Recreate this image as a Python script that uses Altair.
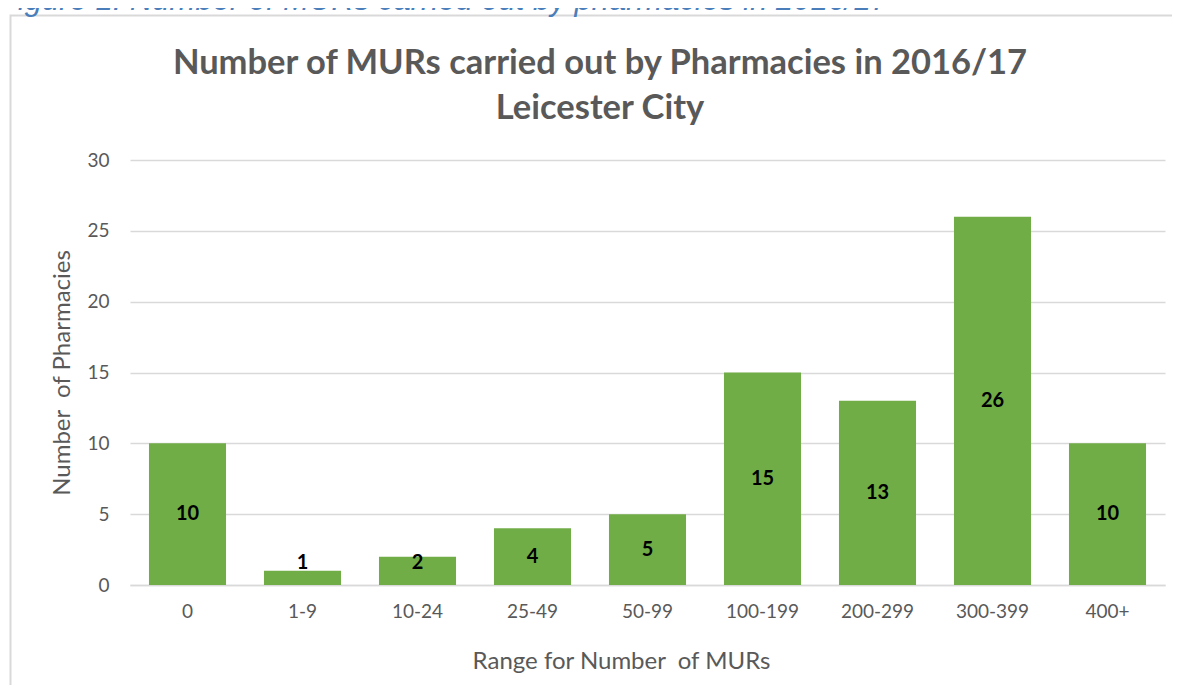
import altair as alt
import pandas as pd

categories = ["0", "1-9", "10-24", "25-49", "50-99", "100-199", "200-299", "300-399", "400+"]
pharmacies = [10, 1, 2, 4, 5, 15, 13, 26, 10]
y_ticks = [0, 5, 10, 15, 20, 25, 30]

title_lines = ["Number of MURs carried out by Pharmacies in 2016/17", "Leicester City"]
caption = "Figure 1: Number of MURs carried out by pharmacies in 2016/17"
x_title = "Range for Number \u00a0of MURs"
y_title = "Number \u00a0of Pharmacies"

df = pd.DataFrame({"range": categories, "count": pharmacies})

FONT = "Lato"
GREY = "#595959"

x_enc = alt.X(
    "range:N",
    sort=categories,
    scale=alt.Scale(paddingInner=0.33, paddingOuter=0.165),
    axis=alt.Axis(
        title=x_title,
        labelAngle=0,
        labelFont=FONT,
        labelFontSize=19,
        labelColor=GREY,
        labelPadding=17,
        ticks=False,
        domainColor="#d9d9d9",
        domainWidth=1.5,
        titleFont=FONT,
        titleFontSize=24,
        titleFontWeight="normal",
        titleColor=GREY,
        titleX=491,
        titleY=76,
        titleAlign="center",
        titleBaseline="middle",
    ),
)

y_scale = alt.Scale(domain=[0, 30], nice=False)

bars = alt.Chart(df).mark_bar(color="#70ad47").encode(
    x=x_enc,
    y=alt.Y(
        "count:Q",
        scale=y_scale,
        axis=alt.Axis(
            values=y_ticks,
            title=y_title,
            labelFont=FONT,
            labelFontSize=19,
            labelColor=GREY,
            labelPadding=21,
            ticks=False,
            domain=False,
            gridColor="#d9d9d9",
            gridWidth=1.5,
            titleFont=FONT,
            titleFontSize=24,
            titleFontWeight="normal",
            titleColor=GREY,
            titleX=-68,
            titleY=212.5,
            titleAngle=270,
            titleAlign="center",
            titleBaseline="middle",
        ),
    ),
)

labels = alt.Chart(df).transform_calculate(
    pos="max(datum.count / 2, 1.55)"
).mark_text(
    font=FONT, fontSize=20, fontWeight="bold", color="#000000", baseline="middle"
).encode(
    x=alt.X("range:N", sort=categories),
    y=alt.Y("pos:Q", scale=y_scale),
    text=alt.Text("count:Q"),
)

one = alt.Data(values=[{"k": 1}])

border = alt.Chart(one).mark_rect(
    fillOpacity=0, stroke="#d9d9d9", strokeWidth=2
).encode(
    x=alt.value(-119.5), x2=alt.value(1200), y=alt.value(-144.5), y2=alt.value(700)
)

cap = alt.Chart(one).mark_text(
    align="left", baseline="alphabetic", font="Liberation Sans", fontStyle="italic",
    fontSize=31, color="#4a7ebb"
).encode(x=alt.value(-131), y=alt.value(-150), text=alt.value(caption))

t1 = alt.Chart(one).mark_text(
    align="center", baseline="alphabetic", font=FONT, fontWeight="bold",
    fontSize=34.5, color=GREY
).encode(x=alt.value(470), y=alt.value(-86), text=alt.value(title_lines[0]))

t2 = alt.Chart(one).mark_text(
    align="center", baseline="alphabetic", font=FONT, fontWeight="bold",
    fontSize=34.5, color=GREY
).encode(x=alt.value(470), y=alt.value(-41), text=alt.value(title_lines[1]))

chart = alt.layer(border, cap, bars, labels, t1, t2).properties(
    width=1035,
    height=425,
    autosize=alt.AutoSizeParams(type="none"),
    padding={"left": 122, "top": 152, "right": 7, "bottom": 100},
    background="white",
).configure_view(stroke=None)

chart.save("out.html", embed_options={"renderer": "svg", "actions": False})
